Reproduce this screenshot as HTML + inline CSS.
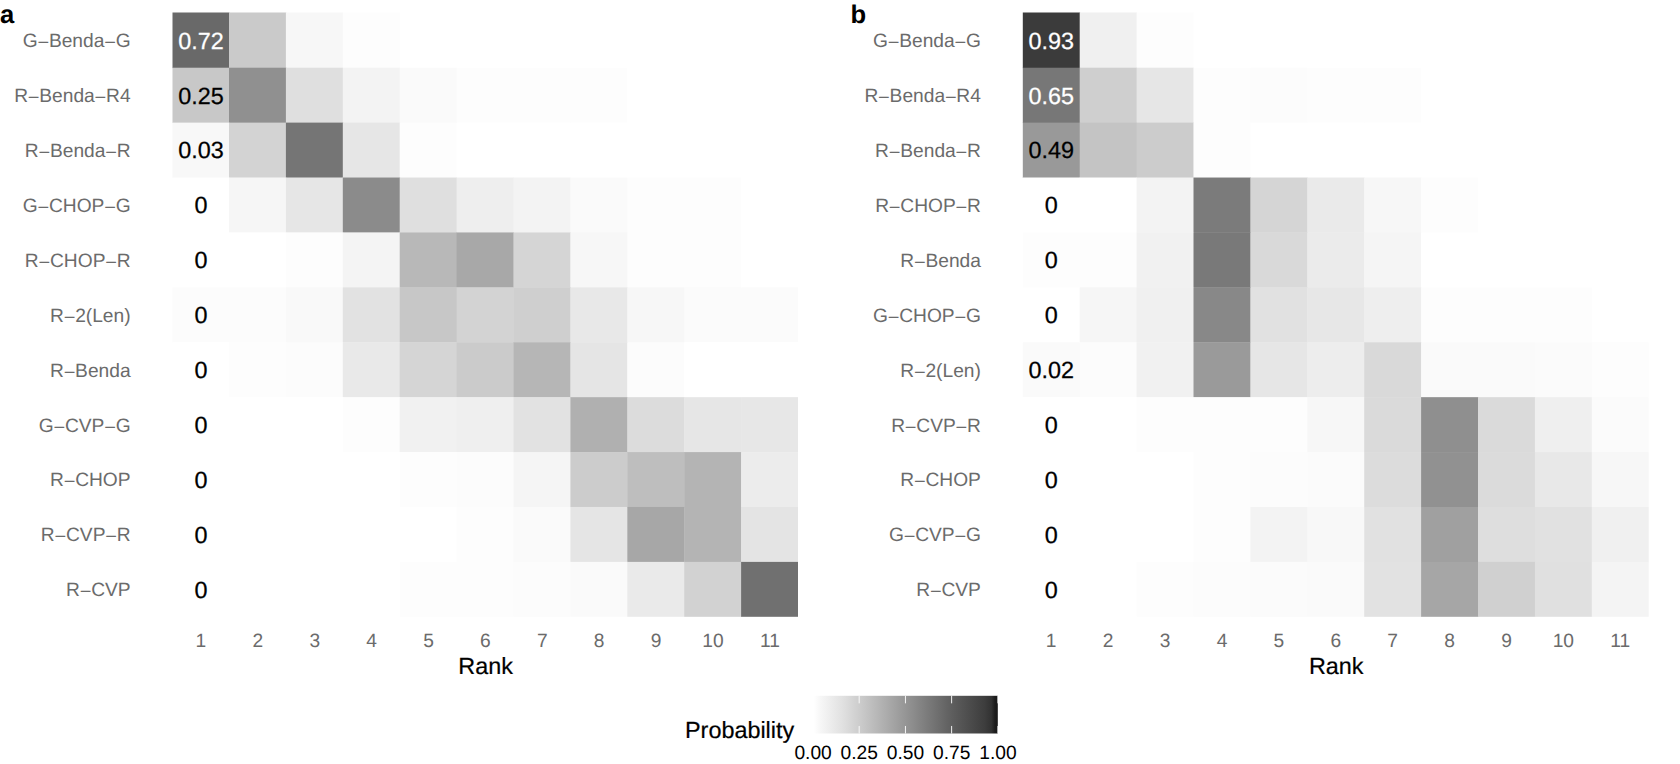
<!DOCTYPE html>
<html lang="en">
<head>
<meta charset="utf-8">
<title>Rank probability heatmaps</title>
<style>
html,body{margin:0;padding:0;background:#fff}
body{width:1680px;height:764px;overflow:hidden}
svg{display:block}
text{font-family:"Liberation Sans",Arial,Helvetica,sans-serif;text-rendering:geometricPrecision}
.yl{font-size:19.2px;fill:#6b6b6b;text-anchor:end}
.xl{font-size:19.2px;fill:#6b6b6b;text-anchor:middle}
.cv{font-size:23.4px;fill:#000;text-anchor:middle;stroke:#000;stroke-width:0.25px}
.cw{fill:#fff;stroke:#fff}
.m{font-size:20px}
.ti{font-size:23.4px;fill:#000;text-anchor:middle;stroke:#000;stroke-width:0.2px}
.tag{font-size:25.6px;font-weight:bold;fill:#000}
.lg{font-size:19.2px;fill:#000;text-anchor:middle}
</style>
</head>
<body>
<svg width="1680" height="764" viewBox="0 0 1680 764">
<defs><linearGradient id="g" x1="0" y1="0" x2="1" y2="0"><stop offset="0" stop-color="rgb(255,255,255)"/><stop offset="0.04" stop-color="rgb(246,246,246)"/><stop offset="0.16" stop-color="rgb(224,224,224)"/><stop offset="0.25" stop-color="rgb(204,204,204)"/><stop offset="0.5" stop-color="rgb(149,149,149)"/><stop offset="0.75" stop-color="rgb(94,94,94)"/><stop offset="0.93" stop-color="rgb(61,61,61)"/><stop offset="0.965" stop-color="rgb(50,50,50)"/><stop offset="0.985" stop-color="rgb(28,28,28)"/><stop offset="1" stop-color="rgb(24,24,24)"/></linearGradient></defs>
<rect x="0" y="0" width="1680" height="764" fill="#fff"/>
<g>
<rect x="172.50" y="12.50" width="56.90" height="55.61" fill="rgb(105,105,105)"/><rect x="229.00" y="12.50" width="57.30" height="55.61" fill="rgb(202,202,202)"/><rect x="285.90" y="12.50" width="57.30" height="55.61" fill="rgb(247,247,247)"/><rect x="342.80" y="12.50" width="57.30" height="55.61" fill="rgb(253,253,253)"/><rect x="399.70" y="12.50" width="57.30" height="55.61" fill="rgb(255,255,255)"/><rect x="456.60" y="12.50" width="57.30" height="55.61" fill="rgb(255,255,255)"/><rect x="513.50" y="12.50" width="57.30" height="55.61" fill="rgb(255,255,255)"/><rect x="570.40" y="12.50" width="57.30" height="55.61" fill="rgb(255,255,255)"/><rect x="627.30" y="12.50" width="57.30" height="55.61" fill="rgb(255,255,255)"/><rect x="684.20" y="12.50" width="57.30" height="55.61" fill="rgb(255,255,255)"/><rect x="741.10" y="12.50" width="56.90" height="55.61" fill="rgb(255,255,255)"/>
<rect x="172.50" y="67.71" width="56.90" height="55.31" fill="rgb(200,200,200)"/><rect x="229.00" y="67.71" width="57.30" height="55.31" fill="rgb(144,144,144)"/><rect x="285.90" y="67.71" width="57.30" height="55.31" fill="rgb(223,223,223)"/><rect x="342.80" y="67.71" width="57.30" height="55.31" fill="rgb(243,243,243)"/><rect x="399.70" y="67.71" width="57.30" height="55.31" fill="rgb(250,250,250)"/><rect x="456.60" y="67.71" width="57.30" height="55.31" fill="rgb(253,253,253)"/><rect x="513.50" y="67.71" width="57.30" height="55.31" fill="rgb(253,253,253)"/><rect x="570.40" y="67.71" width="57.30" height="55.31" fill="rgb(253,253,253)"/><rect x="627.30" y="67.71" width="57.30" height="55.31" fill="rgb(255,255,255)"/><rect x="684.20" y="67.71" width="57.30" height="55.31" fill="rgb(255,255,255)"/><rect x="741.10" y="67.71" width="56.90" height="55.31" fill="rgb(255,255,255)"/>
<rect x="172.50" y="122.62" width="56.90" height="55.31" fill="rgb(248,248,248)"/><rect x="229.00" y="122.62" width="57.30" height="55.31" fill="rgb(211,211,211)"/><rect x="285.90" y="122.62" width="57.30" height="55.31" fill="rgb(117,117,117)"/><rect x="342.80" y="122.62" width="57.30" height="55.31" fill="rgb(230,230,230)"/><rect x="399.70" y="122.62" width="57.30" height="55.31" fill="rgb(253,253,253)"/><rect x="456.60" y="122.62" width="57.30" height="55.31" fill="rgb(255,255,255)"/><rect x="513.50" y="122.62" width="57.30" height="55.31" fill="rgb(255,255,255)"/><rect x="570.40" y="122.62" width="57.30" height="55.31" fill="rgb(255,255,255)"/><rect x="627.30" y="122.62" width="57.30" height="55.31" fill="rgb(255,255,255)"/><rect x="684.20" y="122.62" width="57.30" height="55.31" fill="rgb(255,255,255)"/><rect x="741.10" y="122.62" width="56.90" height="55.31" fill="rgb(255,255,255)"/>
<rect x="172.50" y="177.53" width="56.90" height="55.31" fill="rgb(255,255,255)"/><rect x="229.00" y="177.53" width="57.30" height="55.31" fill="rgb(246,246,246)"/><rect x="285.90" y="177.53" width="57.30" height="55.31" fill="rgb(230,230,230)"/><rect x="342.80" y="177.53" width="57.30" height="55.31" fill="rgb(139,139,139)"/><rect x="399.70" y="177.53" width="57.30" height="55.31" fill="rgb(223,223,223)"/><rect x="456.60" y="177.53" width="57.30" height="55.31" fill="rgb(238,238,238)"/><rect x="513.50" y="177.53" width="57.30" height="55.31" fill="rgb(243,243,243)"/><rect x="570.40" y="177.53" width="57.30" height="55.31" fill="rgb(250,250,250)"/><rect x="627.30" y="177.53" width="57.30" height="55.31" fill="rgb(253,253,253)"/><rect x="684.20" y="177.53" width="57.30" height="55.31" fill="rgb(253,253,253)"/><rect x="741.10" y="177.53" width="56.90" height="55.31" fill="rgb(255,255,255)"/>
<rect x="172.50" y="232.44" width="56.90" height="55.31" fill="rgb(255,255,255)"/><rect x="229.00" y="232.44" width="57.30" height="55.31" fill="rgb(255,255,255)"/><rect x="285.90" y="232.44" width="57.30" height="55.31" fill="rgb(253,253,253)"/><rect x="342.80" y="232.44" width="57.30" height="55.31" fill="rgb(244,244,244)"/><rect x="399.70" y="232.44" width="57.30" height="55.31" fill="rgb(184,184,184)"/><rect x="456.60" y="232.44" width="57.30" height="55.31" fill="rgb(168,168,168)"/><rect x="513.50" y="232.44" width="57.30" height="55.31" fill="rgb(213,213,213)"/><rect x="570.40" y="232.44" width="57.30" height="55.31" fill="rgb(247,247,247)"/><rect x="627.30" y="232.44" width="57.30" height="55.31" fill="rgb(253,253,253)"/><rect x="684.20" y="232.44" width="57.30" height="55.31" fill="rgb(253,253,253)"/><rect x="741.10" y="232.44" width="56.90" height="55.31" fill="rgb(255,255,255)"/>
<rect x="172.50" y="287.35" width="56.90" height="55.31" fill="rgb(252,252,252)"/><rect x="229.00" y="287.35" width="57.30" height="55.31" fill="rgb(252,252,252)"/><rect x="285.90" y="287.35" width="57.30" height="55.31" fill="rgb(249,249,249)"/><rect x="342.80" y="287.35" width="57.30" height="55.31" fill="rgb(226,226,226)"/><rect x="399.70" y="287.35" width="57.30" height="55.31" fill="rgb(199,199,199)"/><rect x="456.60" y="287.35" width="57.30" height="55.31" fill="rgb(211,211,211)"/><rect x="513.50" y="287.35" width="57.30" height="55.31" fill="rgb(207,207,207)"/><rect x="570.40" y="287.35" width="57.30" height="55.31" fill="rgb(232,232,232)"/><rect x="627.30" y="287.35" width="57.30" height="55.31" fill="rgb(247,247,247)"/><rect x="684.20" y="287.35" width="57.30" height="55.31" fill="rgb(251,251,251)"/><rect x="741.10" y="287.35" width="56.90" height="55.31" fill="rgb(251,251,251)"/>
<rect x="172.50" y="342.25" width="56.90" height="55.31" fill="rgb(255,255,255)"/><rect x="229.00" y="342.25" width="57.30" height="55.31" fill="rgb(253,253,253)"/><rect x="285.90" y="342.25" width="57.30" height="55.31" fill="rgb(252,252,252)"/><rect x="342.80" y="342.25" width="57.30" height="55.31" fill="rgb(233,233,233)"/><rect x="399.70" y="342.25" width="57.30" height="55.31" fill="rgb(213,213,213)"/><rect x="456.60" y="342.25" width="57.30" height="55.31" fill="rgb(203,203,203)"/><rect x="513.50" y="342.25" width="57.30" height="55.31" fill="rgb(182,182,182)"/><rect x="570.40" y="342.25" width="57.30" height="55.31" fill="rgb(229,229,229)"/><rect x="627.30" y="342.25" width="57.30" height="55.31" fill="rgb(252,252,252)"/><rect x="684.20" y="342.25" width="57.30" height="55.31" fill="rgb(255,255,255)"/><rect x="741.10" y="342.25" width="56.90" height="55.31" fill="rgb(255,255,255)"/>
<rect x="172.50" y="397.16" width="56.90" height="55.31" fill="rgb(255,255,255)"/><rect x="229.00" y="397.16" width="57.30" height="55.31" fill="rgb(255,255,255)"/><rect x="285.90" y="397.16" width="57.30" height="55.31" fill="rgb(255,255,255)"/><rect x="342.80" y="397.16" width="57.30" height="55.31" fill="rgb(253,253,253)"/><rect x="399.70" y="397.16" width="57.30" height="55.31" fill="rgb(241,241,241)"/><rect x="456.60" y="397.16" width="57.30" height="55.31" fill="rgb(239,239,239)"/><rect x="513.50" y="397.16" width="57.30" height="55.31" fill="rgb(226,226,226)"/><rect x="570.40" y="397.16" width="57.30" height="55.31" fill="rgb(176,176,176)"/><rect x="627.30" y="397.16" width="57.30" height="55.31" fill="rgb(220,220,220)"/><rect x="684.20" y="397.16" width="57.30" height="55.31" fill="rgb(230,230,230)"/><rect x="741.10" y="397.16" width="56.90" height="55.31" fill="rgb(231,231,231)"/>
<rect x="172.50" y="452.07" width="56.90" height="55.31" fill="rgb(255,255,255)"/><rect x="229.00" y="452.07" width="57.30" height="55.31" fill="rgb(255,255,255)"/><rect x="285.90" y="452.07" width="57.30" height="55.31" fill="rgb(255,255,255)"/><rect x="342.80" y="452.07" width="57.30" height="55.31" fill="rgb(255,255,255)"/><rect x="399.70" y="452.07" width="57.30" height="55.31" fill="rgb(253,253,253)"/><rect x="456.60" y="452.07" width="57.30" height="55.31" fill="rgb(252,252,252)"/><rect x="513.50" y="452.07" width="57.30" height="55.31" fill="rgb(245,245,245)"/><rect x="570.40" y="452.07" width="57.30" height="55.31" fill="rgb(204,204,204)"/><rect x="627.30" y="452.07" width="57.30" height="55.31" fill="rgb(190,190,190)"/><rect x="684.20" y="452.07" width="57.30" height="55.31" fill="rgb(180,180,180)"/><rect x="741.10" y="452.07" width="56.90" height="55.31" fill="rgb(236,236,236)"/>
<rect x="172.50" y="506.98" width="56.90" height="55.31" fill="rgb(255,255,255)"/><rect x="229.00" y="506.98" width="57.30" height="55.31" fill="rgb(255,255,255)"/><rect x="285.90" y="506.98" width="57.30" height="55.31" fill="rgb(255,255,255)"/><rect x="342.80" y="506.98" width="57.30" height="55.31" fill="rgb(255,255,255)"/><rect x="399.70" y="506.98" width="57.30" height="55.31" fill="rgb(255,255,255)"/><rect x="456.60" y="506.98" width="57.30" height="55.31" fill="rgb(253,253,253)"/><rect x="513.50" y="506.98" width="57.30" height="55.31" fill="rgb(250,250,250)"/><rect x="570.40" y="506.98" width="57.30" height="55.31" fill="rgb(229,229,229)"/><rect x="627.30" y="506.98" width="57.30" height="55.31" fill="rgb(167,167,167)"/><rect x="684.20" y="506.98" width="57.30" height="55.31" fill="rgb(180,180,180)"/><rect x="741.10" y="506.98" width="56.90" height="55.31" fill="rgb(228,228,228)"/>
<rect x="172.50" y="561.89" width="56.90" height="54.91" fill="rgb(255,255,255)"/><rect x="229.00" y="561.89" width="57.30" height="54.91" fill="rgb(255,255,255)"/><rect x="285.90" y="561.89" width="57.30" height="54.91" fill="rgb(255,255,255)"/><rect x="342.80" y="561.89" width="57.30" height="54.91" fill="rgb(255,255,255)"/><rect x="399.70" y="561.89" width="57.30" height="54.91" fill="rgb(253,253,253)"/><rect x="456.60" y="561.89" width="57.30" height="54.91" fill="rgb(253,253,253)"/><rect x="513.50" y="561.89" width="57.30" height="54.91" fill="rgb(252,252,252)"/><rect x="570.40" y="561.89" width="57.30" height="54.91" fill="rgb(250,250,250)"/><rect x="627.30" y="561.89" width="57.30" height="54.91" fill="rgb(234,234,234)"/><rect x="684.20" y="561.89" width="57.30" height="54.91" fill="rgb(210,210,210)"/><rect x="741.10" y="561.89" width="56.90" height="54.91" fill="rgb(112,112,112)"/>
</g>
<g>
<text class="yl" x="130.6" y="47.2">G<tspan class="m" dy="2" dx="-0.2">−</tspan><tspan dy="-2" dx="-0.2">Benda</tspan><tspan class="m" dy="2" dx="-0.2">−</tspan><tspan dy="-2" dx="-0.2">G</tspan></text>
<text class="cv cw" x="201.0" y="48.6">0.72</text>
<text class="yl" x="130.6" y="102.1">R<tspan class="m" dy="2" dx="-0.2">−</tspan><tspan dy="-2" dx="-0.2">Benda</tspan><tspan class="m" dy="2" dx="-0.2">−</tspan><tspan dy="-2" dx="-0.2">R4</tspan></text>
<text class="cv" x="201.0" y="103.5">0.25</text>
<text class="yl" x="130.6" y="157.0">R<tspan class="m" dy="2" dx="-0.2">−</tspan><tspan dy="-2" dx="-0.2">Benda</tspan><tspan class="m" dy="2" dx="-0.2">−</tspan><tspan dy="-2" dx="-0.2">R</tspan></text>
<text class="cv" x="201.0" y="158.4">0.03</text>
<text class="yl" x="130.6" y="211.9">G<tspan class="m" dy="2" dx="-0.2">−</tspan><tspan dy="-2" dx="-0.2">CHOP</tspan><tspan class="m" dy="2" dx="-0.2">−</tspan><tspan dy="-2" dx="-0.2">G</tspan></text>
<text class="cv" x="201.0" y="213.3">0</text>
<text class="yl" x="130.6" y="266.8">R<tspan class="m" dy="2" dx="-0.2">−</tspan><tspan dy="-2" dx="-0.2">CHOP</tspan><tspan class="m" dy="2" dx="-0.2">−</tspan><tspan dy="-2" dx="-0.2">R</tspan></text>
<text class="cv" x="201.0" y="268.2">0</text>
<text class="yl" x="130.6" y="321.7">R<tspan class="m" dy="2" dx="-0.2">−</tspan><tspan dy="-2" dx="-0.2">2(Len)</tspan></text>
<text class="cv" x="201.0" y="323.1">0</text>
<text class="yl" x="130.6" y="376.6">R<tspan class="m" dy="2" dx="-0.2">−</tspan><tspan dy="-2" dx="-0.2">Benda</tspan></text>
<text class="cv" x="201.0" y="378.0">0</text>
<text class="yl" x="130.6" y="431.5">G<tspan class="m" dy="2" dx="-0.2">−</tspan><tspan dy="-2" dx="-0.2">CVP</tspan><tspan class="m" dy="2" dx="-0.2">−</tspan><tspan dy="-2" dx="-0.2">G</tspan></text>
<text class="cv" x="201.0" y="432.9">0</text>
<text class="yl" x="130.6" y="486.4">R<tspan class="m" dy="2" dx="-0.2">−</tspan><tspan dy="-2" dx="-0.2">CHOP</tspan></text>
<text class="cv" x="201.0" y="487.8">0</text>
<text class="yl" x="130.6" y="541.3">R<tspan class="m" dy="2" dx="-0.2">−</tspan><tspan dy="-2" dx="-0.2">CVP</tspan><tspan class="m" dy="2" dx="-0.2">−</tspan><tspan dy="-2" dx="-0.2">R</tspan></text>
<text class="cv" x="201.0" y="542.7">0</text>
<text class="yl" x="130.6" y="596.2">R<tspan class="m" dy="2" dx="-0.2">−</tspan><tspan dy="-2" dx="-0.2">CVP</tspan></text>
<text class="cv" x="201.0" y="597.6">0</text>
<text class="xl" x="200.9" y="646.6">1</text>
<text class="xl" x="257.8" y="646.6">2</text>
<text class="xl" x="314.8" y="646.6">3</text>
<text class="xl" x="371.6" y="646.6">4</text>
<text class="xl" x="428.5" y="646.6">5</text>
<text class="xl" x="485.4" y="646.6">6</text>
<text class="xl" x="542.3" y="646.6">7</text>
<text class="xl" x="599.2" y="646.6">8</text>
<text class="xl" x="656.1" y="646.6">9</text>
<text class="xl" x="713.0" y="646.6">10</text>
<text class="xl" x="769.9" y="646.6">11</text>
<text class="ti" x="485.6" y="674.1">Rank</text>
</g>
<g>
<rect x="1022.80" y="12.50" width="57.30" height="55.61" fill="rgb(59,59,59)"/><rect x="1079.70" y="12.50" width="57.30" height="55.61" fill="rgb(240,240,240)"/><rect x="1136.60" y="12.50" width="57.30" height="55.61" fill="rgb(253,253,253)"/><rect x="1193.50" y="12.50" width="57.30" height="55.61" fill="rgb(255,255,255)"/><rect x="1250.40" y="12.50" width="57.30" height="55.61" fill="rgb(255,255,255)"/><rect x="1307.30" y="12.50" width="57.30" height="55.61" fill="rgb(255,255,255)"/><rect x="1364.20" y="12.50" width="57.30" height="55.61" fill="rgb(255,255,255)"/><rect x="1421.10" y="12.50" width="57.30" height="55.61" fill="rgb(255,255,255)"/><rect x="1478.00" y="12.50" width="57.30" height="55.61" fill="rgb(255,255,255)"/><rect x="1534.90" y="12.50" width="57.30" height="55.61" fill="rgb(255,255,255)"/><rect x="1591.80" y="12.50" width="56.90" height="55.61" fill="rgb(255,255,255)"/>
<rect x="1022.80" y="67.71" width="57.30" height="55.31" fill="rgb(119,119,119)"/><rect x="1079.70" y="67.71" width="57.30" height="55.31" fill="rgb(207,207,207)"/><rect x="1136.60" y="67.71" width="57.30" height="55.31" fill="rgb(230,230,230)"/><rect x="1193.50" y="67.71" width="57.30" height="55.31" fill="rgb(253,253,253)"/><rect x="1250.40" y="67.71" width="57.30" height="55.31" fill="rgb(252,252,252)"/><rect x="1307.30" y="67.71" width="57.30" height="55.31" fill="rgb(253,253,253)"/><rect x="1364.20" y="67.71" width="57.30" height="55.31" fill="rgb(253,253,253)"/><rect x="1421.10" y="67.71" width="57.30" height="55.31" fill="rgb(255,255,255)"/><rect x="1478.00" y="67.71" width="57.30" height="55.31" fill="rgb(255,255,255)"/><rect x="1534.90" y="67.71" width="57.30" height="55.31" fill="rgb(255,255,255)"/><rect x="1591.80" y="67.71" width="56.90" height="55.31" fill="rgb(255,255,255)"/>
<rect x="1022.80" y="122.62" width="57.30" height="55.31" fill="rgb(153,153,153)"/><rect x="1079.70" y="122.62" width="57.30" height="55.31" fill="rgb(196,196,196)"/><rect x="1136.60" y="122.62" width="57.30" height="55.31" fill="rgb(204,204,204)"/><rect x="1193.50" y="122.62" width="57.30" height="55.31" fill="rgb(253,253,253)"/><rect x="1250.40" y="122.62" width="57.30" height="55.31" fill="rgb(255,255,255)"/><rect x="1307.30" y="122.62" width="57.30" height="55.31" fill="rgb(255,255,255)"/><rect x="1364.20" y="122.62" width="57.30" height="55.31" fill="rgb(255,255,255)"/><rect x="1421.10" y="122.62" width="57.30" height="55.31" fill="rgb(255,255,255)"/><rect x="1478.00" y="122.62" width="57.30" height="55.31" fill="rgb(255,255,255)"/><rect x="1534.90" y="122.62" width="57.30" height="55.31" fill="rgb(255,255,255)"/><rect x="1591.80" y="122.62" width="56.90" height="55.31" fill="rgb(255,255,255)"/>
<rect x="1022.80" y="177.53" width="57.30" height="55.31" fill="rgb(255,255,255)"/><rect x="1079.70" y="177.53" width="57.30" height="55.31" fill="rgb(255,255,255)"/><rect x="1136.60" y="177.53" width="57.30" height="55.31" fill="rgb(243,243,243)"/><rect x="1193.50" y="177.53" width="57.30" height="55.31" fill="rgb(123,123,123)"/><rect x="1250.40" y="177.53" width="57.30" height="55.31" fill="rgb(213,213,213)"/><rect x="1307.30" y="177.53" width="57.30" height="55.31" fill="rgb(234,234,234)"/><rect x="1364.20" y="177.53" width="57.30" height="55.31" fill="rgb(247,247,247)"/><rect x="1421.10" y="177.53" width="57.30" height="55.31" fill="rgb(253,253,253)"/><rect x="1478.00" y="177.53" width="57.30" height="55.31" fill="rgb(255,255,255)"/><rect x="1534.90" y="177.53" width="57.30" height="55.31" fill="rgb(255,255,255)"/><rect x="1591.80" y="177.53" width="56.90" height="55.31" fill="rgb(255,255,255)"/>
<rect x="1022.80" y="232.44" width="57.30" height="55.31" fill="rgb(253,253,253)"/><rect x="1079.70" y="232.44" width="57.30" height="55.31" fill="rgb(253,253,253)"/><rect x="1136.60" y="232.44" width="57.30" height="55.31" fill="rgb(241,241,241)"/><rect x="1193.50" y="232.44" width="57.30" height="55.31" fill="rgb(121,121,121)"/><rect x="1250.40" y="232.44" width="57.30" height="55.31" fill="rgb(217,217,217)"/><rect x="1307.30" y="232.44" width="57.30" height="55.31" fill="rgb(235,235,235)"/><rect x="1364.20" y="232.44" width="57.30" height="55.31" fill="rgb(245,245,245)"/><rect x="1421.10" y="232.44" width="57.30" height="55.31" fill="rgb(255,255,255)"/><rect x="1478.00" y="232.44" width="57.30" height="55.31" fill="rgb(255,255,255)"/><rect x="1534.90" y="232.44" width="57.30" height="55.31" fill="rgb(255,255,255)"/><rect x="1591.80" y="232.44" width="56.90" height="55.31" fill="rgb(255,255,255)"/>
<rect x="1022.80" y="287.35" width="57.30" height="55.31" fill="rgb(255,255,255)"/><rect x="1079.70" y="287.35" width="57.30" height="55.31" fill="rgb(246,246,246)"/><rect x="1136.60" y="287.35" width="57.30" height="55.31" fill="rgb(240,240,240)"/><rect x="1193.50" y="287.35" width="57.30" height="55.31" fill="rgb(136,136,136)"/><rect x="1250.40" y="287.35" width="57.30" height="55.31" fill="rgb(225,225,225)"/><rect x="1307.30" y="287.35" width="57.30" height="55.31" fill="rgb(231,231,231)"/><rect x="1364.20" y="287.35" width="57.30" height="55.31" fill="rgb(238,238,238)"/><rect x="1421.10" y="287.35" width="57.30" height="55.31" fill="rgb(253,253,253)"/><rect x="1478.00" y="287.35" width="57.30" height="55.31" fill="rgb(253,253,253)"/><rect x="1534.90" y="287.35" width="57.30" height="55.31" fill="rgb(253,253,253)"/><rect x="1591.80" y="287.35" width="56.90" height="55.31" fill="rgb(255,255,255)"/>
<rect x="1022.80" y="342.25" width="57.30" height="55.31" fill="rgb(250,250,250)"/><rect x="1079.70" y="342.25" width="57.30" height="55.31" fill="rgb(252,252,252)"/><rect x="1136.60" y="342.25" width="57.30" height="55.31" fill="rgb(241,241,241)"/><rect x="1193.50" y="342.25" width="57.30" height="55.31" fill="rgb(154,154,154)"/><rect x="1250.40" y="342.25" width="57.30" height="55.31" fill="rgb(230,230,230)"/><rect x="1307.30" y="342.25" width="57.30" height="55.31" fill="rgb(237,237,237)"/><rect x="1364.20" y="342.25" width="57.30" height="55.31" fill="rgb(217,217,217)"/><rect x="1421.10" y="342.25" width="57.30" height="55.31" fill="rgb(250,250,250)"/><rect x="1478.00" y="342.25" width="57.30" height="55.31" fill="rgb(250,250,250)"/><rect x="1534.90" y="342.25" width="57.30" height="55.31" fill="rgb(251,251,251)"/><rect x="1591.80" y="342.25" width="56.90" height="55.31" fill="rgb(253,253,253)"/>
<rect x="1022.80" y="397.16" width="57.30" height="55.31" fill="rgb(255,255,255)"/><rect x="1079.70" y="397.16" width="57.30" height="55.31" fill="rgb(255,255,255)"/><rect x="1136.60" y="397.16" width="57.30" height="55.31" fill="rgb(253,253,253)"/><rect x="1193.50" y="397.16" width="57.30" height="55.31" fill="rgb(253,253,253)"/><rect x="1250.40" y="397.16" width="57.30" height="55.31" fill="rgb(253,253,253)"/><rect x="1307.30" y="397.16" width="57.30" height="55.31" fill="rgb(247,247,247)"/><rect x="1364.20" y="397.16" width="57.30" height="55.31" fill="rgb(218,218,218)"/><rect x="1421.10" y="397.16" width="57.30" height="55.31" fill="rgb(143,143,143)"/><rect x="1478.00" y="397.16" width="57.30" height="55.31" fill="rgb(218,218,218)"/><rect x="1534.90" y="397.16" width="57.30" height="55.31" fill="rgb(239,239,239)"/><rect x="1591.80" y="397.16" width="56.90" height="55.31" fill="rgb(251,251,251)"/>
<rect x="1022.80" y="452.07" width="57.30" height="55.31" fill="rgb(255,255,255)"/><rect x="1079.70" y="452.07" width="57.30" height="55.31" fill="rgb(255,255,255)"/><rect x="1136.60" y="452.07" width="57.30" height="55.31" fill="rgb(255,255,255)"/><rect x="1193.50" y="452.07" width="57.30" height="55.31" fill="rgb(253,253,253)"/><rect x="1250.40" y="452.07" width="57.30" height="55.31" fill="rgb(252,252,252)"/><rect x="1307.30" y="452.07" width="57.30" height="55.31" fill="rgb(251,251,251)"/><rect x="1364.20" y="452.07" width="57.30" height="55.31" fill="rgb(220,220,220)"/><rect x="1421.10" y="452.07" width="57.30" height="55.31" fill="rgb(145,145,145)"/><rect x="1478.00" y="452.07" width="57.30" height="55.31" fill="rgb(219,219,219)"/><rect x="1534.90" y="452.07" width="57.30" height="55.31" fill="rgb(232,232,232)"/><rect x="1591.80" y="452.07" width="56.90" height="55.31" fill="rgb(247,247,247)"/>
<rect x="1022.80" y="506.98" width="57.30" height="55.31" fill="rgb(255,255,255)"/><rect x="1079.70" y="506.98" width="57.30" height="55.31" fill="rgb(255,255,255)"/><rect x="1136.60" y="506.98" width="57.30" height="55.31" fill="rgb(255,255,255)"/><rect x="1193.50" y="506.98" width="57.30" height="55.31" fill="rgb(253,253,253)"/><rect x="1250.40" y="506.98" width="57.30" height="55.31" fill="rgb(243,243,243)"/><rect x="1307.30" y="506.98" width="57.30" height="55.31" fill="rgb(248,248,248)"/><rect x="1364.20" y="506.98" width="57.30" height="55.31" fill="rgb(225,225,225)"/><rect x="1421.10" y="506.98" width="57.30" height="55.31" fill="rgb(160,160,160)"/><rect x="1478.00" y="506.98" width="57.30" height="55.31" fill="rgb(222,222,222)"/><rect x="1534.90" y="506.98" width="57.30" height="55.31" fill="rgb(225,225,225)"/><rect x="1591.80" y="506.98" width="56.90" height="55.31" fill="rgb(240,240,240)"/>
<rect x="1022.80" y="561.89" width="57.30" height="54.91" fill="rgb(255,255,255)"/><rect x="1079.70" y="561.89" width="57.30" height="54.91" fill="rgb(255,255,255)"/><rect x="1136.60" y="561.89" width="57.30" height="54.91" fill="rgb(253,253,253)"/><rect x="1193.50" y="561.89" width="57.30" height="54.91" fill="rgb(252,252,252)"/><rect x="1250.40" y="561.89" width="57.30" height="54.91" fill="rgb(251,251,251)"/><rect x="1307.30" y="561.89" width="57.30" height="54.91" fill="rgb(250,250,250)"/><rect x="1364.20" y="561.89" width="57.30" height="54.91" fill="rgb(226,226,226)"/><rect x="1421.10" y="561.89" width="57.30" height="54.91" fill="rgb(166,166,166)"/><rect x="1478.00" y="561.89" width="57.30" height="54.91" fill="rgb(208,208,208)"/><rect x="1534.90" y="561.89" width="57.30" height="54.91" fill="rgb(224,224,224)"/><rect x="1591.80" y="561.89" width="56.90" height="54.91" fill="rgb(244,244,244)"/>
</g>
<g>
<text class="yl" x="980.9" y="47.2">G<tspan class="m" dy="2" dx="-0.2">−</tspan><tspan dy="-2" dx="-0.2">Benda</tspan><tspan class="m" dy="2" dx="-0.2">−</tspan><tspan dy="-2" dx="-0.2">G</tspan></text>
<text class="cv cw" x="1051.2" y="48.6">0.93</text>
<text class="yl" x="980.9" y="102.1">R<tspan class="m" dy="2" dx="-0.2">−</tspan><tspan dy="-2" dx="-0.2">Benda</tspan><tspan class="m" dy="2" dx="-0.2">−</tspan><tspan dy="-2" dx="-0.2">R4</tspan></text>
<text class="cv cw" x="1051.2" y="103.5">0.65</text>
<text class="yl" x="980.9" y="157.0">R<tspan class="m" dy="2" dx="-0.2">−</tspan><tspan dy="-2" dx="-0.2">Benda</tspan><tspan class="m" dy="2" dx="-0.2">−</tspan><tspan dy="-2" dx="-0.2">R</tspan></text>
<text class="cv" x="1051.2" y="158.4">0.49</text>
<text class="yl" x="980.9" y="211.9">R<tspan class="m" dy="2" dx="-0.2">−</tspan><tspan dy="-2" dx="-0.2">CHOP</tspan><tspan class="m" dy="2" dx="-0.2">−</tspan><tspan dy="-2" dx="-0.2">R</tspan></text>
<text class="cv" x="1051.2" y="213.3">0</text>
<text class="yl" x="980.9" y="266.8">R<tspan class="m" dy="2" dx="-0.2">−</tspan><tspan dy="-2" dx="-0.2">Benda</tspan></text>
<text class="cv" x="1051.2" y="268.2">0</text>
<text class="yl" x="980.9" y="321.7">G<tspan class="m" dy="2" dx="-0.2">−</tspan><tspan dy="-2" dx="-0.2">CHOP</tspan><tspan class="m" dy="2" dx="-0.2">−</tspan><tspan dy="-2" dx="-0.2">G</tspan></text>
<text class="cv" x="1051.2" y="323.1">0</text>
<text class="yl" x="980.9" y="376.6">R<tspan class="m" dy="2" dx="-0.2">−</tspan><tspan dy="-2" dx="-0.2">2(Len)</tspan></text>
<text class="cv" x="1051.2" y="378.0">0.02</text>
<text class="yl" x="980.9" y="431.5">R<tspan class="m" dy="2" dx="-0.2">−</tspan><tspan dy="-2" dx="-0.2">CVP</tspan><tspan class="m" dy="2" dx="-0.2">−</tspan><tspan dy="-2" dx="-0.2">R</tspan></text>
<text class="cv" x="1051.2" y="432.9">0</text>
<text class="yl" x="980.9" y="486.4">R<tspan class="m" dy="2" dx="-0.2">−</tspan><tspan dy="-2" dx="-0.2">CHOP</tspan></text>
<text class="cv" x="1051.2" y="487.8">0</text>
<text class="yl" x="980.9" y="541.3">G<tspan class="m" dy="2" dx="-0.2">−</tspan><tspan dy="-2" dx="-0.2">CVP</tspan><tspan class="m" dy="2" dx="-0.2">−</tspan><tspan dy="-2" dx="-0.2">G</tspan></text>
<text class="cv" x="1051.2" y="542.7">0</text>
<text class="yl" x="980.9" y="596.2">R<tspan class="m" dy="2" dx="-0.2">−</tspan><tspan dy="-2" dx="-0.2">CVP</tspan></text>
<text class="cv" x="1051.2" y="597.6">0</text>
<text class="xl" x="1051.2" y="646.6">1</text>
<text class="xl" x="1108.1" y="646.6">2</text>
<text class="xl" x="1165.0" y="646.6">3</text>
<text class="xl" x="1222.0" y="646.6">4</text>
<text class="xl" x="1278.8" y="646.6">5</text>
<text class="xl" x="1335.8" y="646.6">6</text>
<text class="xl" x="1392.7" y="646.6">7</text>
<text class="xl" x="1449.5" y="646.6">8</text>
<text class="xl" x="1506.5" y="646.6">9</text>
<text class="xl" x="1563.3" y="646.6">10</text>
<text class="xl" x="1620.2" y="646.6">11</text>
<text class="ti" x="1336.2" y="674.1">Rank</text>
</g>
<text class="tag" x="0" y="22.8">a</text>
<text class="tag" x="850.5" y="22.8">b</text>
<text class="ti" style="text-anchor:start" x="685" y="737.8">Probability</text>
<rect x="813.7" y="695.8" width="184.1" height="37.7" fill="url(#g)"/>
<rect x="812.45" y="695.80" width="0.9" height="7.54" fill="#fff"/><rect x="812.45" y="725.96" width="0.9" height="7.54" fill="#fff"/>
<text class="lg" x="813.1" y="758.6">0.00</text>
<rect x="858.70" y="695.80" width="0.9" height="7.54" fill="#fff"/><rect x="858.70" y="725.96" width="0.9" height="7.54" fill="#fff"/>
<text class="lg" x="859.3" y="758.6">0.25</text>
<rect x="904.95" y="695.80" width="0.9" height="7.54" fill="#fff"/><rect x="904.95" y="725.96" width="0.9" height="7.54" fill="#fff"/>
<text class="lg" x="905.5" y="758.6">0.50</text>
<rect x="951.20" y="695.80" width="0.9" height="7.54" fill="#fff"/><rect x="951.20" y="725.96" width="0.9" height="7.54" fill="#fff"/>
<text class="lg" x="951.7" y="758.6">0.75</text>
<rect x="997.45" y="695.80" width="0.9" height="7.54" fill="#fff"/><rect x="997.45" y="725.96" width="0.9" height="7.54" fill="#fff"/>
<text class="lg" x="997.9" y="758.6">1.00</text>
</svg>
</body>
</html>
